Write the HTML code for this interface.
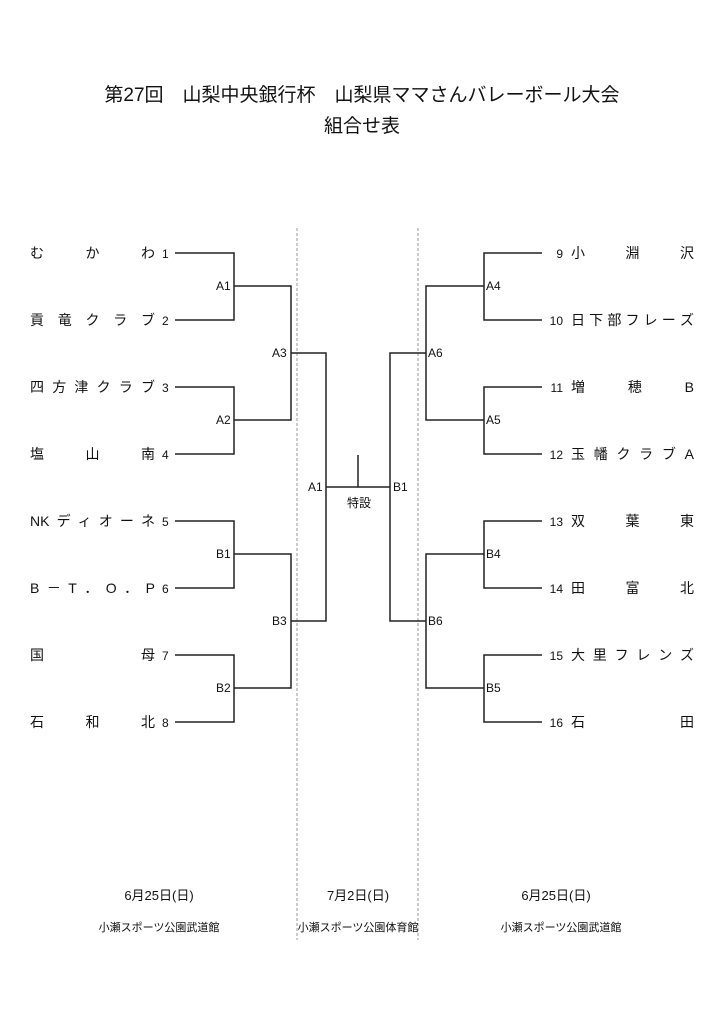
<!DOCTYPE html>
<html><head><meta charset="utf-8"><style>
body{margin:0;background:#fff;width:724px;height:1024px;position:relative;overflow:hidden;font-family:"Liberation Sans","Noto Sans CJK JP",sans-serif;color:#111}
.t{position:absolute;white-space:nowrap}
.n{position:absolute;display:flex;justify-content:space-between;font-size:14px;line-height:16px}
.num{position:absolute;font-size:12px;line-height:16px}
.lb{position:absolute;font-size:12px;line-height:14px}
</style></head><body>
<div class="t" style="left:0;width:724px;text-align:center;top:80px;font-size:19px">第27回　山梨中央銀行杯　山梨県ママさんバレーボール大会</div>
<div class="t" style="left:0;width:724px;text-align:center;top:111px;font-size:19px">組合せ表</div>
<svg width="724" height="1024" style="position:absolute;left:0;top:0" fill="none" stroke="#222" stroke-width="1.5">
<g stroke="#999" stroke-width="1" stroke-dasharray="3,2"><line x1="297" y1="228" x2="297" y2="940"/><line x1="418" y1="228" x2="418" y2="940"/></g>
<path d="M175 253H234V320H175M175 387H234V454H175M175 521H234V588H175M175 655H234V722H175"/>
<path d="M234 286H291V420H234M234 554H291V688H234"/>
<path d="M291 353H326V621H291M326 487H390M358 455V487"/>
<path d="M542 253H484V320H542M542 387H484V454H542M542 521H484V588H542M542 655H484V722H542"/>
<path d="M484 286H426V420H484M484 554H426V688H484"/>
<path d="M426 353H390V621H426"/>
</svg>
<div class="lb" style="left:216px;top:279px">A1</div>
<div class="lb" style="left:216px;top:413px">A2</div>
<div class="lb" style="left:272px;top:346px">A3</div>
<div class="lb" style="left:216px;top:547px">B1</div>
<div class="lb" style="left:216px;top:681px">B2</div>
<div class="lb" style="left:272px;top:614px">B3</div>
<div class="lb" style="left:308px;top:480px">A1</div>
<div class="lb" style="left:393px;top:480px">B1</div>
<div class="lb" style="left:347px;top:496px">特設</div>
<div class="lb" style="left:428px;top:346px">A6</div>
<div class="lb" style="left:486px;top:279px">A4</div>
<div class="lb" style="left:486px;top:413px">A5</div>
<div class="lb" style="left:428px;top:614px">B6</div>
<div class="lb" style="left:486px;top:547px">B4</div>
<div class="lb" style="left:486px;top:681px">B5</div>

<div class="n" style="left:30px;width:125px;top:245px"><span>む</span><span>か</span><span>わ</span></div>
<div class="n" style="left:30px;width:125px;top:312px"><span>貢</span><span>竜</span><span>ク</span><span>ラ</span><span>ブ</span></div>
<div class="n" style="left:30px;width:125px;top:379px"><span>四</span><span>方</span><span>津</span><span>ク</span><span>ラ</span><span>ブ</span></div>
<div class="n" style="left:30px;width:125px;top:446px"><span>塩</span><span>山</span><span>南</span></div>
<div class="n" style="left:30px;width:125px;top:513px"><span>NK</span><span>デ</span><span>ィ</span><span>オ</span><span>ー</span><span>ネ</span></div>
<div class="n" style="left:30px;width:125px;top:580px"><span>B</span><span>－</span><span>T</span><span>．</span><span>O</span><span>．</span><span>P</span></div>
<div class="n" style="left:30px;width:125px;top:647px"><span>国</span><span>母</span></div>
<div class="n" style="left:30px;width:125px;top:714px"><span>石</span><span>和</span><span>北</span></div>
<div class="num" style="left:162px;top:246px">1</div>
<div class="num" style="left:162px;top:313px">2</div>
<div class="num" style="left:162px;top:380px">3</div>
<div class="num" style="left:162px;top:447px">4</div>
<div class="num" style="left:162px;top:514px">5</div>
<div class="num" style="left:162px;top:581px">6</div>
<div class="num" style="left:162px;top:648px">7</div>
<div class="num" style="left:162px;top:715px">8</div>

<div class="num" style="left:530px;width:33px;text-align:right;top:246px">9</div>
<div class="num" style="left:530px;width:33px;text-align:right;top:313px">10</div>
<div class="num" style="left:530px;width:33px;text-align:right;top:380px">11</div>
<div class="num" style="left:530px;width:33px;text-align:right;top:447px">12</div>
<div class="num" style="left:530px;width:33px;text-align:right;top:514px">13</div>
<div class="num" style="left:530px;width:33px;text-align:right;top:581px">14</div>
<div class="num" style="left:530px;width:33px;text-align:right;top:648px">15</div>
<div class="num" style="left:530px;width:33px;text-align:right;top:715px">16</div>
<div class="n" style="left:571px;width:123px;top:245px"><span>小</span><span>淵</span><span>沢</span></div>
<div class="n" style="left:571px;width:123px;top:312px"><span>日</span><span>下</span><span>部</span><span>フ</span><span>レ</span><span>ー</span><span>ズ</span></div>
<div class="n" style="left:571px;width:123px;top:379px"><span>増</span><span>穂</span><span>B</span></div>
<div class="n" style="left:571px;width:123px;top:446px"><span>玉</span><span>幡</span><span>ク</span><span>ラ</span><span>ブ</span><span>A</span></div>
<div class="n" style="left:571px;width:123px;top:513px"><span>双</span><span>葉</span><span>東</span></div>
<div class="n" style="left:571px;width:123px;top:580px"><span>田</span><span>富</span><span>北</span></div>
<div class="n" style="left:571px;width:123px;top:647px"><span>大</span><span>里</span><span>フ</span><span>レ</span><span>ン</span><span>ズ</span></div>
<div class="n" style="left:571px;width:123px;top:714px"><span>石</span><span>田</span></div>

<div class="t" style="left:59px;width:200px;text-align:center;top:885px;font-size:13px">6月25日(日)</div>
<div class="t" style="left:258px;width:200px;text-align:center;top:885px;font-size:13px">7月2日(日)</div>
<div class="t" style="left:456px;width:200px;text-align:center;top:885px;font-size:13px">6月25日(日)</div>
<div class="t" style="left:59px;width:200px;text-align:center;top:919px;font-size:11px">小瀬スポーツ公園武道館</div>
<div class="t" style="left:258px;width:200px;text-align:center;top:919px;font-size:11px">小瀬スポーツ公園体育館</div>
<div class="t" style="left:461px;width:200px;text-align:center;top:919px;font-size:11px">小瀬スポーツ公園武道館</div>
</body></html>
